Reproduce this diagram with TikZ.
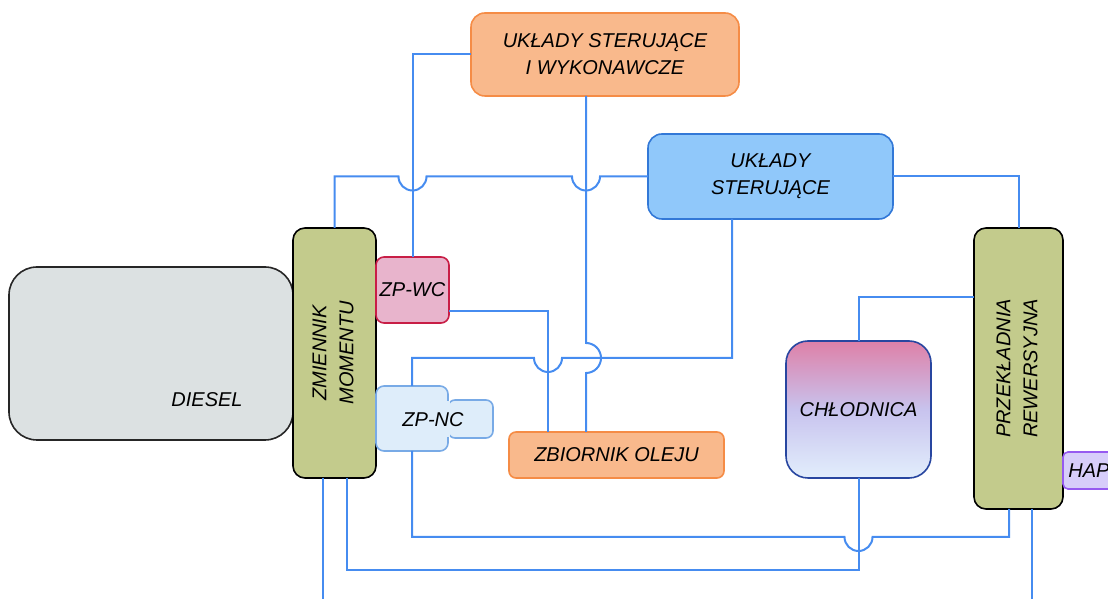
\documentclass[tikz,border=0pt]{standalone}
\usepackage{fontspec}
\setmainfont{Liberation Sans}
\definecolor{pipeblue}{RGB}{70,140,240}
\definecolor{engray}{RGB}{220,225,226}
\definecolor{olive}{RGB}{195,203,140}
\definecolor{orfill}{RGB}{249,185,140}
\definecolor{ordraw}{RGB}{245,140,70}
\definecolor{bufill}{RGB}{144,200,250}
\definecolor{budraw}{RGB}{50,120,215}
\definecolor{wcfill}{RGB}{232,180,204}
\definecolor{wcdraw}{RGB}{200,30,70}
\definecolor{ncfill}{RGB}{222,237,250}
\definecolor{ncdraw}{RGB}{120,170,230}
\definecolor{chltop}{RGB}{222,128,168}
\definecolor{chlmid}{RGB}{200,195,238}
\definecolor{chlbot}{RGB}{226,238,252}
\definecolor{chldraw}{RGB}{40,70,160}
\definecolor{hapfill}{RGB}{215,205,250}
\definecolor{hapdraw}{RGB}{150,90,240}
\usetikzlibrary{calc}

\begin{document}
\begin{tikzpicture}[x=1pt,y=1pt,
  blk/.style={draw,line width=1.6pt,rounded corners=#1,inner sep=0pt,outer sep=0pt,
    align=center,font=\fontsize{20}{27}\selectfont\itshape},
  blk/.default=12pt,
  txt/.style={inner sep=0pt,font=\fontsize{20}{27}\selectfont\itshape},
  pipe/.style={pipeblue,line width=2pt}
]
  \useasboundingbox (0,0) rectangle (1108,599);
  \clip (0,0) rectangle (1108,599);

  % Diesel
  \node[blk=28pt,fill=engray,draw=black!85,minimum width=284pt,minimum height=173pt] (diesel) at (151,245.5) {};
  \node[txt] (dieseltxt) at (207,199) {DIESEL};

  % Zmiennik momentu
  \node[blk,fill=olive,draw=black,minimum width=83pt,minimum height=250pt] (zm) at (334.5,246)
    {\rotatebox{90}{\begin{tabular}{@{}c@{}}ZMIENNIK\\MOMENTU\end{tabular}}};

  % Pompy
  \node[blk=8pt,fill=wcfill,draw=wcdraw,minimum width=73pt,minimum height=66pt] (zpwc) at (412.5,309) {ZP-WC};
  \node[blk=7pt,fill=ncfill,draw=ncdraw,minimum width=45pt,minimum height=38pt] (zpnctab) at (470.5,180) {};
  \node[blk=8pt,fill=ncfill,draw=ncdraw,minimum width=72pt,minimum height=65pt] (zpnc) at (412,180.5) {};
  \fill[ncfill] ($(zpnctab.north west)+(-2,-1)$) rectangle ($(zpnctab.south west)+(2,1)$);
  \node[txt] (zpnctxt) at (433,179) {ZP-NC};

  % Zbiornik
  \node[blk=7pt,fill=orfill,draw=ordraw,minimum width=215pt,minimum height=46pt] (zbo) at (616.5,144) {ZBIORNIK OLEJU};

  % Uklady sterujace
  \node[blk=14pt,fill=orfill,draw=ordraw,minimum width=268pt,minimum height=83pt] (usw) at (605,544.5)
    {UKŁADY STERUJĄCE\\I WYKONAWCZE};
  \node[blk=14pt,fill=bufill,draw=budraw,minimum width=245pt,minimum height=85pt] (us) at (770.5,422.5)
    {UKŁADY\\STERUJĄCE};

  % Chlodnica
  \node[blk=22pt,draw=chldraw,top color=chltop,bottom color=chlbot,middle color=chlmid,
    minimum width=145pt,minimum height=137pt] (chl) at (858.5,189.5) {CHŁODNICA};

  % Przekladnia
  \node[blk,fill=olive,draw=black,minimum width=89pt,minimum height=281pt] (pr) at (1018.5,230.5)
    {\rotatebox{90}{\begin{tabular}{@{}c@{}}PRZEKŁADNIA\\REWERSYJNA\end{tabular}}};
  \node[blk=5pt,fill=hapfill,draw=hapdraw,minimum width=52pt,minimum height=37pt] (hap) at (1089,128.5) {HAP};

  % Przewody
  \coordinate (tA) at ($(usw.south)+(-19,0)$);
  \coordinate (hrow) at ($(zpnc.north)+(0,28)$);
  \coordinate (dB) at ($(zbo.north)+(-68.5,0)$);
  \coordinate (hB) at ($(us.south)+(-38.5,0)$);
  \coordinate (rA) at ($(zpnc.south)+(0,-86)$);
  \coordinate (rB) at ($(zm.south)+(12.5,-92)$);

  \draw[pipe] (usw.west) -| (zpwc.north);
  \draw[pipe] (zm.north) |- ($(zpwc.north |- us.west)+(-14,0)$) arc[start angle=180,end angle=360,radius=14pt]
    -- ($(tA |- us.west)+(-14,0)$) arc[start angle=180,end angle=360,radius=14pt] -- (us.west);
  \draw[pipe] (tA) -- ($(tA |- hrow)+(0,15)$) arc[start angle=90,end angle=-90,radius=15pt] -- (tA |- zbo.north);
  \draw[pipe] (zpnc.north) -- (hrow) -- ($(dB |- hrow)+(-14,0)$) arc[start angle=180,end angle=360,radius=14pt]
    -- (hB |- hrow) -- (hB);
  \draw[pipe] ($(zpwc.east)+(0,-21)$) -| (dB);
  \draw[pipe] (zpnc.south) -- (rA) -- ($(chl.south |- rA)+(-14,0)$) arc[start angle=180,end angle=360,radius=14pt]
    -| ($(pr.south)+(-9.5,0)$);
  \draw[pipe] ($(zm.south)+(12.5,0)$) -- (rB) -| (chl.south);
  \draw[pipe] ($(zm.south)+(-11.5,0)$) -- ++(0,-130);
  \draw[pipe] ($(pr.south)+(13.5,0)$) -- ++(0,-100);
  \draw[pipe] (us.east) -| (pr.north);
  \draw[pipe] ($(pr.west)+(0,71.5)$) -| (chl.north);
\end{tikzpicture}
\end{document}
